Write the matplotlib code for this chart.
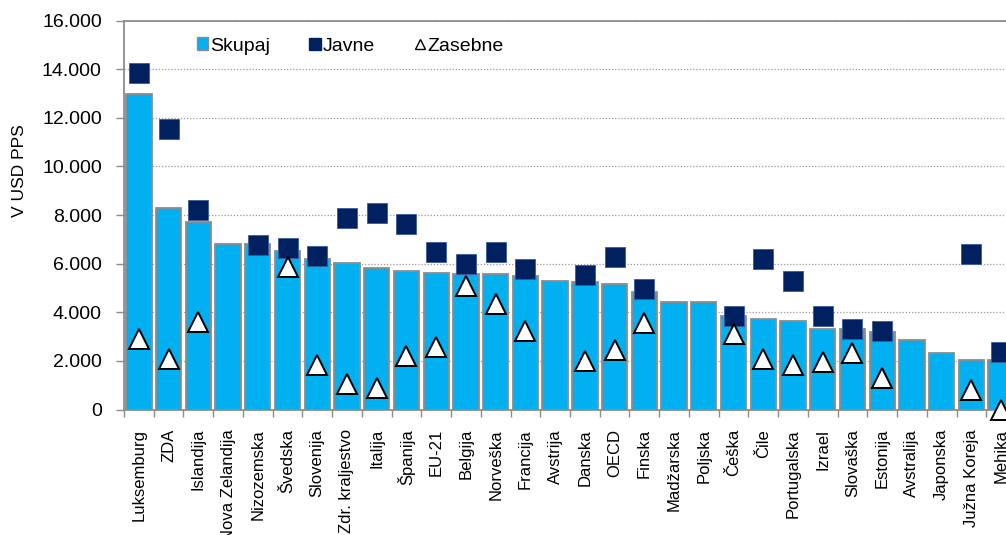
import numpy as np
import matplotlib
matplotlib.use("Agg")
import matplotlib.pyplot as plt
from matplotlib.lines import Line2D
from matplotlib.patches import Patch
from matplotlib.ticker import FuncFormatter, MultipleLocator, FixedLocator

plt.rcParams['font.family'] = ['Liberation Sans', 'DejaVu Sans']

categories = ["Luksemburg", "ZDA", "Islandija", "Nova Zelandija", "Nizozemska",
              "Švedska", "Slovenija", "Zdr. kraljestvo", "Italija", "Španija",
              "EU-21", "Belgija", "Norveška", "Francija", "Avstrija", "Danska",
              "OECD", "Finska", "Madžarska", "Poljska", "Češka", "Čile",
              "Portugalska", "Izrael", "Slovaška", "Estonija", "Avstralija",
              "Japonska", "Južna Koreja", "Mehika"]

skupaj = [12970, 8300, 7720, 6790, 6800, 6530, 6200, 6010, 5830, 5680,
          5630, 5560, 5560, 5490, 5290, 5230, 5160, 4820, 4430, 4430,
          3840, 3710, 3640, 3330, 3320, 3190, 2850, 2340, 2050, 2050]

javne = [13830, 11540, 8220, np.nan, 6780, 6650, 6320, 7890, 8100, 7630,
         6460, 5990, 6460, 5760, np.nan, 5540, 6280, 4940, np.nan, np.nan,
         3830, 6180, 5270, 3830, 3300, 3230, np.nan, np.nan, 6380, 2370]

zasebne = [2910, 2090, 3600, np.nan, np.nan, 5880, 1820, 1050, 870, 2220,
           2570, 5090, 4350, 3210, np.nan, 1980, 2460, 3550, np.nan, np.nan,
           3120, 2090, 1830, 1960, 2340, 1290, np.nan, np.nan, 800, 0]

BAR_BLUE = "#00B0F0"
NAVY = "#002060"
GRAY = "#8C8C8C"

W, H = 1006, 535
fig = plt.figure(figsize=(W / 100, H / 100), dpi=100)
ax = fig.add_axes([124 / W, 125.5 / H, 892 / W, 389 / H])

x = np.arange(len(categories))
ax.bar(x, skupaj, width=0.85, color=BAR_BLUE, edgecolor=GRAY, linewidth=1.3,
       zorder=2)
ax.plot(x, javne, linestyle="none", marker="s", markersize=14.5,
        markerfacecolor=NAVY, markeredgecolor="#3A5A9A", markeredgewidth=0.6,
        zorder=3)
ax.plot(x, zasebne, linestyle="none", marker="^", markersize=15,
        markerfacecolor="white", markeredgecolor="black", markeredgewidth=1.4,
        zorder=4, clip_on=False)

ax.set_xlim(-0.5, len(categories) - 0.5)
ax.set_ylim(0, 16000)

ax.yaxis.set_major_locator(MultipleLocator(2000))
ax.yaxis.set_major_formatter(FuncFormatter(lambda v, p: f"{int(v):,}".replace(",", ".")))
ax.tick_params(axis="y", labelsize=14, length=6, width=1, color=GRAY,
               direction="out", pad=10)

ax.set_xticks(x)
ax.set_xticklabels(categories, rotation=90, fontsize=12)
ax.tick_params(axis="x", length=0, pad=14)
ax.xaxis.set_minor_locator(FixedLocator(np.arange(-0.5, len(categories), 1.0)))
ax.tick_params(axis="x", which="minor", length=5, width=1, color=GRAY,
               direction="out")

ax.grid(axis="y", which="major", linestyle=(0, (1, 1.5)), color="#9A9A9A",
        linewidth=0.9, zorder=0)
ax.set_axisbelow(True)

for side in ("left", "bottom", "top"):
    ax.spines[side].set_color(GRAY)
    ax.spines[side].set_linewidth(1.3)
ax.spines["right"].set_visible(False)

fig.text(20 / W, 1 - 171 / H, "V USD PPS", rotation=90, fontsize=12.5,
         ha="center", va="center")

handles = [
    Patch(facecolor=BAR_BLUE, edgecolor=GRAY, linewidth=1.0),
    Line2D([], [], linestyle="none", marker="s", markersize=8,
           markerfacecolor=NAVY, markeredgecolor=NAVY),
    Line2D([], [], linestyle="none", marker="^", markersize=7,
           markerfacecolor="white", markeredgecolor="black",
           markeredgewidth=1.0),
]
fig.legend(handles, ["Skupaj", "Javne", "Zasebne"], ncol=3, frameon=False,
           loc="center left", bbox_to_anchor=(197 / W, 1 - 46 / H),
           fontsize=14, handlelength=0.55, handleheight=0.6,
           handletextpad=0.15, columnspacing=2.0, borderpad=0,
           borderaxespad=0)

fig.savefig("out.png", dpi=100)
